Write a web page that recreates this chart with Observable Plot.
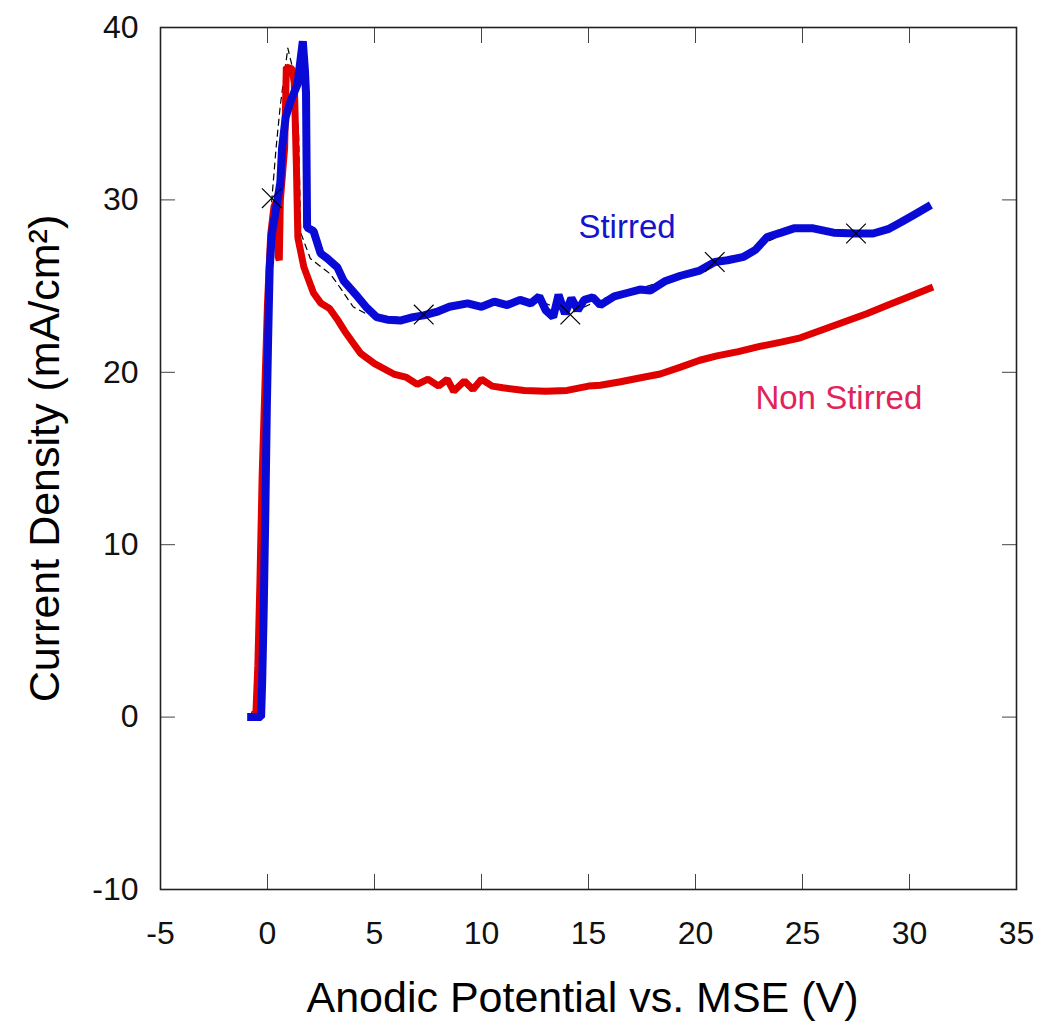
<!DOCTYPE html>
<html>
<head>
<meta charset="utf-8">
<script src="https://cdn.jsdelivr.net/npm/d3@7"></script>
<script src="https://cdn.jsdelivr.net/npm/@observablehq/plot@0.6"></script>
<style>
  html, body { margin: 0; padding: 0; background: #fff; }
  #chart svg { font-family: "Liberation Sans", Arial, sans-serif; }
</style>
</head>
<body>
<div id="chart"></div>
<script>
const xTicks = [-5, 0, 5, 10, 15, 20, 25, 30, 35];
const yTicks = [-10, 0, 10, 20, 30, 40];

const stirredX = [-0.95, -0.3, -0.25, -0.18, -0.1, -0.03, 0.03, 0.1, 0.2, 0.4, 0.6, 0.68, 0.85, 1.1, 1.4, 1.65, 1.75, 1.8, 1.85, 2.15, 2.48, 2.8, 3.26, 3.56, 4.2, 4.6, 5.1, 5.6, 6.2, 6.8, 7.3, 7.9, 8.5, 9.35, 10.0, 10.6, 11.2, 11.8, 12.3, 12.7, 13.0, 13.35, 13.6, 13.9, 14.2, 14.5, 14.8, 15.2, 15.55, 16.2, 16.8, 17.4, 17.9, 18.6, 19.3, 20.2, 20.9, 21.5, 22.25, 22.8, 23.35, 24.0, 24.6, 25.5, 26.45, 27.5, 28.3, 29.0, 29.6, 30.3, 31.0];
const stirredY = [0, 0, 2, 6, 12, 18, 22, 26, 28, 29.5, 31, 33, 34.8, 35.8, 36.7, 39.2, 37.5, 36.2, 28.4, 28.2, 26.9, 26.6, 26.1, 25.3, 24.4, 23.8, 23.2, 23.05, 23.0, 23.2, 23.3, 23.5, 23.8, 24.0, 23.8, 24.1, 23.9, 24.2, 24.0, 24.4, 23.6, 23.2, 24.5, 23.4, 24.3, 23.6, 24.2, 24.35, 23.9, 24.4, 24.6, 24.8, 24.75, 25.3, 25.6, 25.9, 26.4, 26.5, 26.7, 27.1, 27.85, 28.1, 28.35, 28.35, 28.1, 28.05, 28.05, 28.3, 28.7, 29.2, 29.7];

const nonStirredX = [-0.9, -0.55, -0.45, -0.35, -0.25, -0.1, 0.0, 0.15, 0.3, 0.45, 0.5, 0.55, 0.6, 0.8, 0.88, 1.15, 1.25, 1.35, 1.42, 1.7, 2.15, 2.5, 2.9, 3.3, 3.6, 4.0, 4.35, 5.0, 5.9, 6.5, 7.0, 7.5, 8.0, 8.4, 8.7, 9.2, 9.6, 10.0, 10.5, 11.0, 12.0, 13.0, 14.0, 15.0, 15.55, 16.5, 17.5, 18.35, 19.3, 20.2, 21.0, 22.0, 23.0, 24.0, 24.9, 26.0, 27.0, 28.0, 29.0, 30.0, 31.1];
const nonStirredY = [0, 0, 3, 8, 14, 20, 24, 28, 29.6, 30.0, 26.7, 26.5, 30.0, 33.0, 37.7, 37.6, 36.8, 32.0, 27.8, 26.1, 24.6, 24.0, 23.7, 23.0, 22.4, 21.7, 21.1, 20.5, 19.9, 19.7, 19.3, 19.6, 19.2, 19.6, 18.9, 19.5, 19.0, 19.6, 19.2, 19.1, 18.95, 18.9, 18.95, 19.2, 19.25, 19.45, 19.7, 19.9, 20.3, 20.7, 20.95, 21.2, 21.5, 21.75, 22.0, 22.5, 22.95, 23.4, 23.9, 24.4, 24.95];

const fitX = [-0.8, -0.3, -0.1, 0.05, 0.2, 0.4, 0.6, 0.95, 1.2, 1.45, 1.55, 2.0, 2.94, 3.4, 4.0, 4.6, 5.5, 6.5, 7.3, 9.0, 11.0, 12.8, 14.15, 15.5, 17.5, 19.5, 20.9, 22.3, 23.4, 24.6, 26.4, 27.5, 28.5, 29.5, 30.4];
const fitY = [0, 2, 10, 22, 30, 33, 35.5, 38.8, 37.5, 34, 28.1, 26.6, 25.7, 24.9, 23.8, 23.4, 23.2, 23.2, 23.35, 23.8, 24.0, 24.1, 23.4, 24.2, 24.9, 25.7, 26.4, 26.75, 27.6, 28.3, 28.15, 28.05, 28.2, 28.6, 29.2];

const markerX = [0.2, 7.3, 14.15, 20.9, 27.5];
const markerY = [30.1, 23.35, 23.35, 26.4, 28.05];

const seriesLabels = ["Stirred", "Non Stirred"];
const labelX = [16.8, 26.7];
const labelY = [28.4, 18.5];
const labelColors = ["#1414cc", "#e0245a"];

const stirred = stirredX.map((x, i) => ({x, y: stirredY[i]}));
const nonStirred = nonStirredX.map((x, i) => ({x, y: nonStirredY[i]}));
const fit = fitX.map((x, i) => ({x, y: fitY[i]}));
const markers = markerX.map((x, i) => ({x, y: markerY[i]}));
const labels = seriesLabels.map((t, i) => ({t, x: labelX[i], y: labelY[i], c: labelColors[i]}));

const fmt = d => String(d);

const chart = Plot.plot({
  width: 1039,
  height: 1030,
  marginLeft: 160,
  marginRight: 23,
  marginTop: 27,
  marginBottom: 141,
  style: {fontFamily: "Liberation Sans, Arial, sans-serif", fontSize: "32px", color: "#111", background: "#fff"},
  x: {domain: [-5, 35]},
  y: {domain: [-10, 40]},
  marks: [
    // tick labels
    Plot.axisX({ticks: xTicks, tickSize: 0, tickPadding: 32, tickFormat: fmt, label: null, fontSize: 32, fill: "#111"}),
    Plot.axisY({ticks: yTicks, tickSize: 0, tickPadding: 22, tickFormat: fmt, label: null, fontSize: 32, fill: "#111"}),
    // inward ticks on all four sides
    Plot.axisX({ticks: xTicks, anchor: "bottom", tickSize: 15, dy: -15, tickFormat: () => "", label: null, stroke: "#444"}),
    Plot.axisX({ticks: xTicks, anchor: "top", tickSize: 15, dy: 15, tickFormat: () => "", label: null, stroke: "#444"}),
    Plot.axisY({ticks: yTicks, anchor: "left", tickSize: 15, dx: 15, tickFormat: () => "", label: null, stroke: "#444"}),
    Plot.axisY({ticks: yTicks, anchor: "right", tickSize: 15, dx: -15, tickFormat: () => "", label: null, stroke: "#444"}),
    Plot.frame({stroke: "#222", strokeWidth: 1.6}),
    // series
    Plot.line(fit, {x: "x", y: "y", stroke: "#000", strokeWidth: 1.2, strokeDasharray: "6,5"}),
    Plot.line(nonStirred, {x: "x", y: "y", stroke: "#e00000", strokeWidth: 7, strokeLinejoin: "miter", strokeLinecap: "butt"}),
    Plot.line(stirred, {x: "x", y: "y", stroke: "#0a0ad6", strokeWidth: 8, strokeLinejoin: "miter", strokeLinecap: "butt"}),
    Plot.dot(markers, {x: "x", y: "y", symbol: "times", r: 9, stroke: "#000", strokeWidth: 1.2}),
    // series labels
    Plot.text(labels, {x: "x", y: "y", text: "t", fill: "c", fontSize: 33, textAnchor: "middle"}),
    // axis titles
    Plot.text(["Anodic Potential vs. MSE (V)"], {frameAnchor: "bottom", dy: 122, dx: -6, fontSize: 43, fill: "#000", textAnchor: "middle"}),
    Plot.text(["Current Density (mA/cm²)"], {frameAnchor: "left", dx: -115, rotate: -90, fontSize: 43, fill: "#000", textAnchor: "middle"})
  ]
});
document.getElementById("chart").appendChild(chart);
</script>
</body>
</html>
